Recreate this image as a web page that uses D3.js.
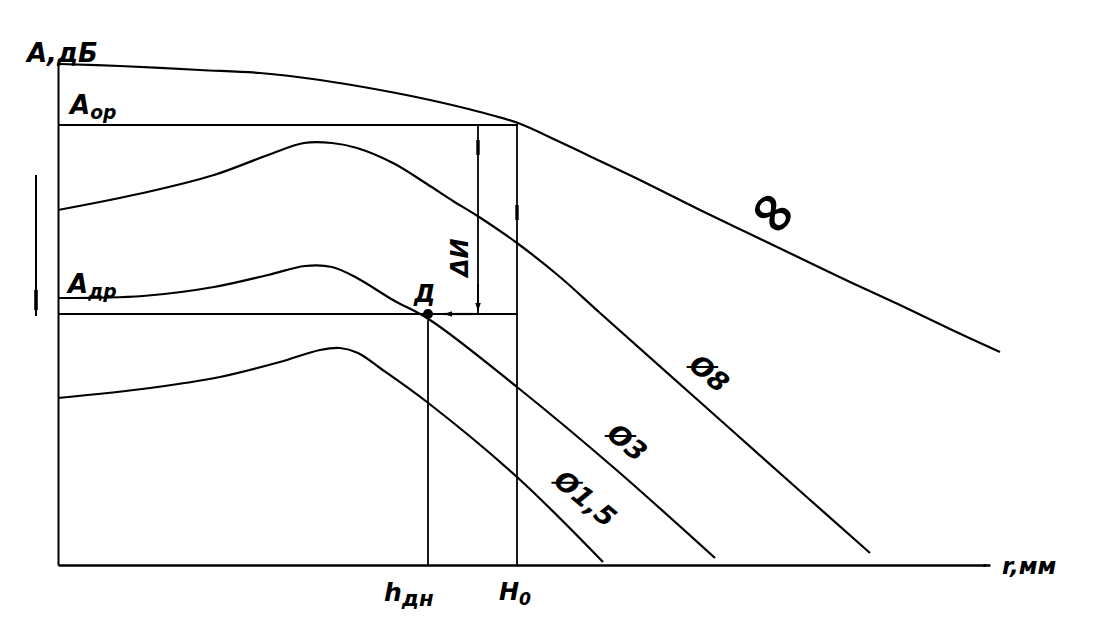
<!DOCTYPE html>
<html><head><meta charset="utf-8">
<script src="https://cdn.jsdelivr.net/npm/d3@7"></script>
<style>
html,body{margin:0;padding:0;background:#fff;}
text{font-family:"DejaVu Sans",sans-serif;font-style:italic;font-weight:bold;fill:#000;}
</style></head>
<body><svg id="c" width="1115" height="643"></svg>
<script>
// r (mm, arbitrary units) and A (dB, arbitrary units)
const rInf = [0.4,12.4,28.4,40.4,52.4,64.4,74.4,84.4,92,100.4,108.4,118.4,128.4,138.4,148.4,158.4,168.4,178.4,188.4];
const aInf = [100.2,99.8,99,98.4,97,95,93,90.6,88.4,84.6,80.8,76,71,66.2,61.4,56.6,52,47.2,42.6];
const r8 = [0,17,31.2,42,49.2,54.8,59.8,67,73.8,79,83.6,91.8,100.4,108.4,128.4,148.4,162.4];
const a8 = [71,74.4,78,82,84.4,84.4,83.4,80.4,76.2,72.8,70,64.4,57.6,50.4,32.6,14.8,2.4];
const r3 = [0,17,31.2,42,49.4,54.8,59.8,67,74.4,91.8,111,131.4];
const a3 = [53.4,53.8,55.6,58,59.8,59.6,57.4,53,49,35.6,19.6,1.4];
const r15 = [0,18.4,32.4,44.4,52.4,56.4,60,64.4,73.8,91.8,109];
const a15 = [33.4,35.4,37.6,40.6,43,43.4,42.4,39.4,32.6,17.6,0.6];
const curveLabels = ["∞","Ø8","Ø3","Ø1,5"];
const aOp = 88, aDp = 50.2, rH0 = 91.8, rHdn = 74, rDelta = 84;
const refLabels = {aOp:["А","ор"], aDp:["А","др"], h0:["Н","0"], hdn:["h","дн"], d:"Д", delta:"ΔИ", yAxis:"А,дБ", xAxis:"r,мм"};

const svg = d3.select("#c");
const x = d3.scaleLinear().domain([0,190]).range([58,1008]);
const y = d3.scaleLinear().domain([0,102]).range([565,55]);

const defs = svg.append("defs");
defs.append("marker").attr("id","ar").attr("viewBox","0 0 10 10")
  .attr("refX",10).attr("refY",5).attr("markerWidth",11).attr("markerHeight",8)
  .attr("markerUnits","userSpaceOnUse").attr("orient","auto")
  .append("path").attr("d","M0,1.5L10,5L0,8.5Z").attr("fill","#000");
defs.append("marker").attr("id","arB").attr("viewBox","0 0 10 10")
  .attr("refX",10).attr("refY",5).attr("markerWidth",18).attr("markerHeight",7)
  .attr("markerUnits","userSpaceOnUse").attr("orient","auto")
  .append("path").attr("d","M0,3L10,5L0,7Z").attr("fill","#000");

// axes (no ticks)
svg.append("g").attr("transform",`translate(0,${y(0)})`)
  .call(d3.axisBottom(x.copy().domain([0,186.4]).range([x(0),x(186.4)])).ticks(0).tickSizeOuter(0))
  .select(".domain").attr("stroke-width",2.4).attr("marker-end","url(#arB)");
svg.append("g").attr("transform",`translate(${x(0)},0)`)
  .call(d3.axisLeft(y.copy().domain([0,100.6]).range([y(0),y(100.6)])).ticks(0).tickSizeOuter(0))
  .select(".domain").attr("stroke-width",2);

const line = d3.line().x(d=>x(d[0])).y(d=>y(d[1])).curve(d3.curveCatmullRom.alpha(0.5));
const series = [[rInf,aInf],[r8,a8],[r3,a3],[r15,a15]];
series.forEach(([rs,as])=>{
  svg.append("path").attr("d",line(rs.map((r,i)=>[r,as[i]])))
    .attr("fill","none").attr("stroke","#000").attr("stroke-width",2.2);
});

function seg(x1,y1,x2,y2,w,m){
  const p=svg.append("line").attr("x1",x(x1)).attr("y1",y(y1)).attr("x2",x(x2)).attr("y2",y(y2))
   .attr("stroke","#000").attr("stroke-width",w||1.8);
  if(m) p.attr("marker-end",m);
  return p;
}
seg(0,aOp,rH0+0.2,aOp,2);
seg(0,aDp,rH0,aDp,2.2);
seg(rH0,0,rH0,aOp,1.8);
seg(rHdn,0,rHdn,aDp,1.8);
seg(rDelta,aOp,rDelta,aDp,1.8);
// arrows
seg(rDelta,aDp+6,rDelta,aDp+0.6,2,"url(#ar)");
seg(rDelta-1,aDp,rHdn+3.2,aDp,2.2,"url(#ar)");
seg(rDelta,aOp-3,rDelta,aOp-6,3.4);
seg(rH0,aOp-16,rH0,aOp-19,3.4);
// left indicator
seg(-4.4,78,-4.4,49.8,2);
seg(-4.4,55,-4.4,51,3.6);
// point D
svg.append("circle").attr("cx",x(rHdn)).attr("cy",y(aDp)).attr("r",5).attr("fill","#000");

function sub(tx,ty,main,s,fs,k){
  const t=svg.append("text").attr("x",tx).attr("y",ty).attr("font-size",fs||24);
  t.append("tspan").text(main);
  t.append("tspan").attr("font-size",(fs||24)*(k||0.72)).attr("dy",5).text(s);
}
sub(x(0)+12,y(aOp)-11,refLabels.aOp[0],refLabels.aOp[1],26);
sub(x(0)+10,y(aDp)-21,refLabels.aDp[0],refLabels.aDp[1],26);
sub(x(rH0)-18,y(0)+35,refLabels.h0[0],refLabels.h0[1],24);
sub(x(rHdn)-44,y(0)+36,refLabels.hdn[0],refLabels.hdn[1],25,0.85);
svg.append("text").attr("x",27).attr("y",y(100.6)).attr("font-size",26).text(refLabels.yAxis);
svg.append("text").attr("x",x(186.4)+12).attr("y",y(0)+9).attr("font-size",23).text(refLabels.xAxis);
svg.append("text").attr("x",x(rHdn)-14).attr("y",y(aDp)-12).attr("font-size",24).text(refLabels.d);
svg.append("text").attr("transform",`translate(${x(rDelta)-10},${y(aDp)-37}) rotate(-90)`)
  .attr("font-size",24).text(refLabels.delta);

// curve labels rotated along the lines
const labPos = [[772,214,40,58],[708,375,40,27],[626,444,40,27],[584,500,40,27]];
curveLabels.forEach((s,i)=>{
  const [px,py,rot,fs]=labPos[i];
  svg.append("text").attr("transform",`translate(${px},${py}) rotate(${rot})`)
    .attr("text-anchor","middle").attr("dominant-baseline","middle")
    .attr("font-size",fs).attr("font-weight", i===0?"normal":"bold").text(s);
});
</script></body></html>
